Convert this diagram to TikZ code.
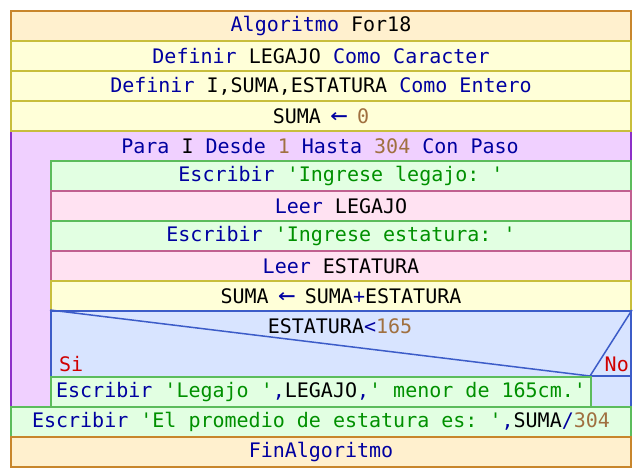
\documentclass[tikz,border=0pt]{standalone}
\usepackage{fontspec}
\setmonofont{DejaVu Sans Mono}
\definecolor{algfill}{HTML}{FFF0CE}
\definecolor{algdraw}{HTML}{C8862C}
\definecolor{deffill}{HTML}{FFFFD8}
\definecolor{defdraw}{HTML}{C8BE3C}
\definecolor{parafill}{HTML}{F0D0FF}
\definecolor{paradraw}{HTML}{8C30C8}
\definecolor{escfill}{HTML}{E2FFE2}
\definecolor{escdraw}{HTML}{5CBC5C}
\definecolor{leerfill}{HTML}{FFE2F2}
\definecolor{leerdraw}{HTML}{C06090}
\definecolor{siffill}{HTML}{D8E4FF}
\definecolor{sidraw}{HTML}{3C5CC8}
\definecolor{kwc}{HTML}{0000A0}
\definecolor{strc}{HTML}{009000}
\definecolor{numc}{HTML}{A07040}
\definecolor{redc}{HTML}{D00000}
\newcommand{\kw}[1]{\textcolor{kwc}{#1}}
\newcommand{\st}[1]{\textcolor{strc}{#1}}
\newcommand{\nm}[1]{\textcolor{numc}{#1}}
\newcommand{\asgarrow}{\textcolor{kwc}{\makebox[12pt]{\scalebox{1.45}[1.25]{←}}}}
\tikzset{
  row/.style={rectangle, anchor=north west, inner sep=0pt, line width=2pt,
    minimum height=30pt, font=\ttfamily\fontsize{20}{24}\selectfont, text=black},
  algbox/.style={row, fill=algfill, draw=algdraw},
  defbox/.style={row, fill=deffill, draw=defdraw},
  escbox/.style={row, fill=escfill, draw=escdraw},
  leerbox/.style={row, fill=leerfill, draw=leerdraw},
  parabox/.style={row, fill=parafill, draw=paradraw},
  ifbox/.style={row, fill=siffill, draw=sidraw},
  txt/.style={inner sep=0pt, font=\ttfamily\fontsize{20}{24}\selectfont, text=black},
}
\begin{document}
\begin{tikzpicture}[x=1pt,y=-1pt]
\useasboundingbox (0,0) rectangle (640,476);
% loop block background
\node[parabox, minimum width=620pt, minimum height=276pt] (para) at (10,130) {};
\node[txt, anchor=center] (paratxt) at (320,146) {\kw{Para} I \kw{Desde} \nm{1} \kw{Hasta} \nm{304} \kw{Con Paso}};
% rows
\node[algbox, minimum width=620pt] (alg) at (10,10) {\kw{Algoritmo} For18};
\node[defbox, minimum width=620pt] (def1) at (10,40) {\kw{Definir} LEGAJO \kw{Como Caracter}};
\node[defbox, minimum width=620pt] (def2) at (10,70) {\kw{Definir} I,SUMA,ESTATURA \kw{Como Entero}};
\node[defbox, minimum width=620pt] (asg1) at (10,100) {SUMA \asgarrow{} \nm{0}};
\node[escbox, minimum width=580pt] (esc1) at (50,160) {\kw{Escribir} \st{'Ingrese legajo: '}};
\node[leerbox, minimum width=580pt] (leer1) at (50,190) {\kw{Leer} LEGAJO};
\node[escbox, minimum width=580pt] (esc2) at (50,220) {\kw{Escribir} \st{'Ingrese estatura: '}};
\node[leerbox, minimum width=580pt] (leer2) at (50,250) {\kw{Leer} ESTATURA};
\node[defbox, minimum width=580pt] (asg2) at (50,280) {SUMA \asgarrow{} SUMA\kw{+}ESTATURA};
% condition
\node[ifbox, minimum width=580pt, minimum height=96pt] (cond) at (50,310) {};
\coordinate (tip) at (590,376);
\draw[sidraw, line width=1.5pt] (cond.north west) -- (tip) -- (cond.north east);
\draw[sidraw, line width=2pt] (tip) -- (cond.east |- tip);
\node[txt] (condtxt) at (340,326) {ESTATURA\kw{<}\nm{165}};
\node[txt, anchor=base west, text=redc] (si) at (59,371) {Si};
\node[txt, anchor=base east, text=redc] (no) at (629,371) {No};
\node[escbox, minimum width=540pt] (esc3) at (50,376) {\kw{Escribir} \st{'Legajo '}\kw{,}LEGAJO\kw{,}\st{' menor de 165cm.'}};
\node[escbox, minimum width=620pt] (esc4) at (10,406) {\kw{Escribir} \st{'El promedio de estatura es: '}\kw{,}SUMA\kw{/}\nm{304}};
\node[algbox, minimum width=620pt] (fin) at (10,436) {\kw{FinAlgoritmo}};
\end{tikzpicture}
\end{document}
